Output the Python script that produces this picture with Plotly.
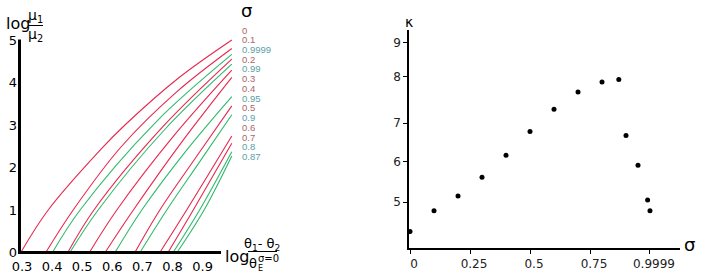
import plotly.graph_objects as go

W, H = 708, 276

# ---------------- data: left panel (log mu1/mu2 vs log (theta1-theta2)/thetaE) ----------------
SIGMA_LABELS = ["0", "0.1", "0.9999", "0.2", "0.99", "0.3", "0.4",
                "0.95", "0.5", "0.9", "0.6", "0.7", "0.8", "0.87"]
CURVE_GROUP = ["r", "r", "g", "r", "g", "r", "r", "g", "r", "g", "r", "r", "g", "g"]
CURVE_X = [
    [0.296, 0.387, 0.565, 0.642, 0.819, 0.997],
    [0.379, 0.470, 0.631, 0.814, 0.997],
    [0.401, 0.493, 0.745, 0.997],
    [0.452, 0.539, 0.768, 0.997],
    [0.459, 0.553, 0.775, 0.997],
    [0.524, 0.615, 0.806, 0.997],
    [0.576, 0.670, 0.833, 0.997],
    [0.609, 0.698, 0.847, 0.997],
    [0.675, 0.758, 0.878, 0.997],
    [0.692, 0.781, 0.889, 0.997],
    [0.758, 0.847, 0.997],
    [0.785, 0.869, 0.997],
    [0.802, 0.890, 0.997],
    [0.815, 0.905, 0.997],
]
CURVE_Y = [
    [0, 1, 2.45, 3.00, 4.10, 5.00],
    [0, 1, 2.50, 3.78, 4.80],
    [0, 1, 3.07, 4.66],
    [0, 1, 2.96, 4.55],
    [0, 1, 2.90, 4.43],
    [0, 1, 2.76, 4.29],
    [0, 1, 2.62, 4.12],
    [0, 1, 2.41, 3.67],
    [0, 1, 2.24, 3.45],
    [0, 1, 2.12, 3.24],
    [0, 1, 2.74],
    [0, 1, 2.57],
    [0, 1, 2.37],
    [0, 1, 2.27],
]
LEFT_XTICKS = [0.3, 0.4, 0.5, 0.6, 0.7, 0.8, 0.9]
LEFT_XTICKTEXT = ["0.3", "0.4", "0.5", "0.6", "0.7", "0.8", "0.9"]
LEFT_YTICKS = [0, 1, 2, 3, 4, 5]

# ---------------- data: right panel (kappa vs sigma) ----------------
SIGMA = [0, 0.1, 0.2, 0.3, 0.4, 0.5, 0.6, 0.7, 0.8, 0.87, 0.9, 0.95, 0.99, 0.9999]
KAPPA = [4.26, 4.78, 5.15, 5.62, 6.17, 6.76, 7.32, 7.75, 8.00, 8.06, 6.66, 5.92, 5.05, 4.78]
RIGHT_XTICKS = [0, 0.25, 0.5, 0.75, 0.9999]
RIGHT_XTICKTEXT = ["0", "0.25", "0.5", "0.75", "0.9999"]
# tick marks are placed where the (hand-drawn) reference axis shows them
RIGHT_YTICKS = [5.0, 6.01, 6.975, 8.13, 8.99]
RIGHT_YTICKTEXT = ["5", "6", "7", "8", "9"]

# ---------------- styles ----------------
LINE_COL = {"r": "#e6284f", "g": "#2fba6a"}
LABEL_COL = {"r": "#a86868", "g": "#5b9ea6"}
FONT = "DejaVu Sans"


def px(x):
    return x / W


def py(y):
    return 1 - y / H


def note(x, y, text, size, xanchor="center", color="black", family=FONT):
    return dict(x=px(x), y=py(y), xref="paper", yref="paper", text=text, showarrow=False,
                xanchor=xanchor, yanchor="middle", font=dict(size=size, color=color, family=family))


fig = go.Figure()

for xs, ys, grp in zip(CURVE_X, CURVE_Y, CURVE_GROUP):
    fig.add_trace(go.Scatter(
        x=xs, y=ys, mode="lines", xaxis="x", yaxis="y",
        line=dict(color=LINE_COL[grp], width=1.1, shape="spline", smoothing=1.0),
        hoverinfo="skip", showlegend=False))

fig.add_trace(go.Scatter(
    x=SIGMA, y=KAPPA, mode="markers", xaxis="x2", yaxis="y2",
    marker=dict(color="black", size=5), showlegend=False))

annotations = []
# legend-like sigma labels on the left panel
annotations.append(note(246, 11, "σ", 18))
for i, (lab, grp) in enumerate(zip(SIGMA_LABELS, CURVE_GROUP)):
    annotations.append(note(240, 30 + i * 9.74, lab, 9.5, xanchor="left",
                            color=LABEL_COL[grp], family="Liberation Sans"))

# left y-axis title: log mu1/mu2
annotations += [
    note(4, 24, "log", 16, xanchor="left"),
    note(35, 16, "μ<sub>1</sub>", 14),
    note(35, 35, "μ<sub>2</sub>", 14),
]
# left x-axis title: log (theta1-theta2)/thetaE^{sigma=0}
annotations += [
    note(223, 256, "log", 16, xanchor="left"),
    note(262, 244, "θ<sub>1</sub>- θ<sub>2</sub>", 13),
    note(247, 263, "θ", 13, xanchor="left"),
    note(256, 258, "σ=0", 10, xanchor="left"),
    note(256, 268, "E", 8, xanchor="left"),
]
# right axis titles
annotations += [
    note(409, 22, "κ", 14),
    note(689, 245, "σ", 18),
]

shapes = [
    # left panel thick axes
    dict(type="line", xref="paper", yref="paper", x0=px(19.5), x1=px(19.5), y0=py(39.5), y1=py(254),
         line=dict(color="black", width=3)),
    dict(type="line", xref="paper", yref="paper", x0=px(18), x1=px(221), y0=py(252.5), y1=py(252.5),
         line=dict(color="black", width=3)),
    # fraction bars
    dict(type="line", xref="paper", yref="paper", x0=px(28), x1=px(43), y0=py(25.5), y1=py(25.5),
         line=dict(color="black", width=1)),
    dict(type="line", xref="paper", yref="paper", x0=px(248), x1=px(277), y0=py(251.5), y1=py(251.5),
         line=dict(color="black", width=1)),
]

fig.update_layout(
    width=W, height=H,
    margin=dict(l=0, r=0, t=0, b=0, autoexpand=False),
    paper_bgcolor="white", plot_bgcolor="white",
    font=dict(family=FONT, color="black"),
    xaxis=dict(domain=[px(20), px(234)], range=[0.29336, 1.00432], anchor="y", automargin=False,
               tickvals=LEFT_XTICKS, ticktext=LEFT_XTICKTEXT, ticks="", showline=False,
               showgrid=False, zeroline=False, tickfont=dict(size=13, color="black"),
               ticklabelstandoff=2),
    yaxis=dict(domain=[py(255), py(35)], range=[-0.0588, 5.1176], anchor="x", automargin=False,
               tickvals=LEFT_YTICKS, ticks="", showline=False, showgrid=False, zeroline=False,
               tickfont=dict(size=13, color="black"), ticklabelstandoff=2),
    xaxis2=dict(domain=[px(409), px(680)], range=[-0.00417, 1.125], anchor="y2", automargin=False,
                tickvals=RIGHT_XTICKS, ticktext=RIGHT_XTICKTEXT, ticks="outside", ticklen=4,
                tickwidth=1.2, tickcolor="black", showline=True, linecolor="black", linewidth=1.5,
                showgrid=False, zeroline=False, tickfont=dict(size=12, color="#222"),
                ticklabelshift=4),
    yaxis2=dict(domain=[py(248), py(30)], range=[3.85, 9.3], anchor="x2", automargin=False,
                tickvals=RIGHT_YTICKS, ticktext=RIGHT_YTICKTEXT, ticks="outside", ticklen=4,
                tickwidth=1.2, tickcolor="black", showline=True, linecolor="black", linewidth=1.5,
                showgrid=False, zeroline=False, tickfont=dict(size=12, color="#222")),
    annotations=annotations,
    shapes=shapes,
)

fig.write_html("out.html", config={"displayModeBar": False},
               post_script="document.body.style.margin='0';document.body.style.overflow='hidden';")
